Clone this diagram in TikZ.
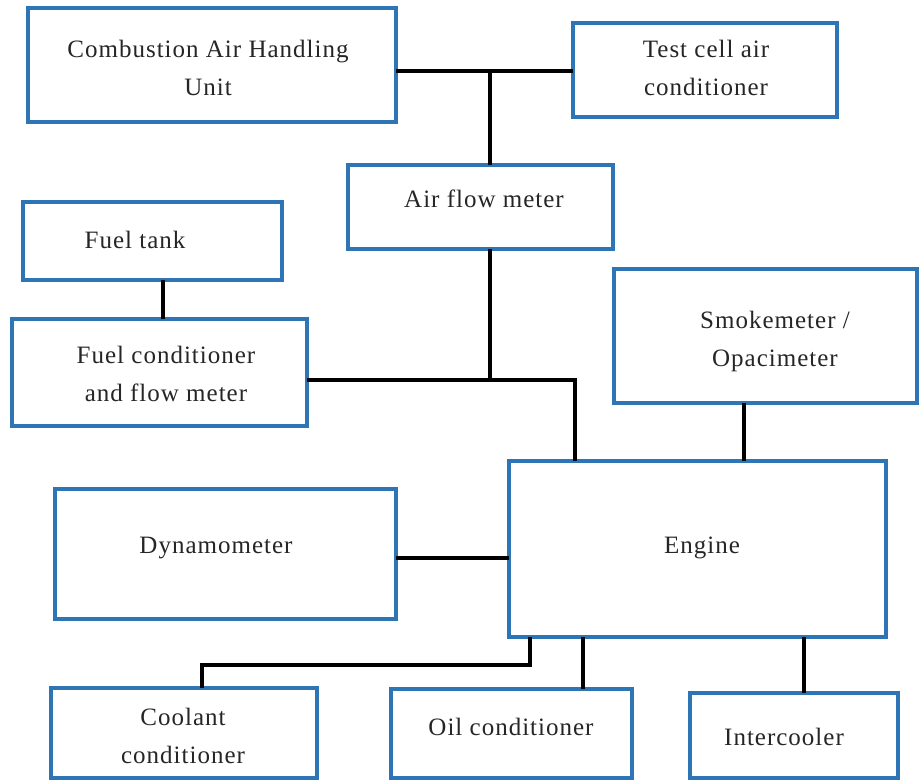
\documentclass[tikz,border=0pt]{standalone}
\usepackage{fontspec}
\setmainfont{Liberation Serif}[LetterSpace=4]
\definecolor{boxblue}{RGB}{46,117,182}
\begin{document}
\begin{tikzpicture}[x=1pt,y=-1pt,
  box/.style={draw=boxblue,line width=3.3pt,fill=white,inner sep=0pt,outer sep=0pt,rectangle},
  txt/.style={align=center,inner sep=0pt,font=\fontsize{25}{38}\selectfont,text=black!85},
  wire/.style={draw=black,line width=3.2pt}]
\useasboundingbox (0,0) rectangle (919,780);
% boxes
\node[box,minimum width=368pt,minimum height=114pt] (cahu) at (212,65) {};
\node[box,minimum width=264pt,minimum height=94pt] (tcac) at (705,70) {};
\node[box,minimum width=265pt,minimum height=84pt] (afm) at (480.5,207) {};
\node[box,minimum width=259pt,minimum height=78pt] (ft) at (152.5,241) {};
\node[box,minimum width=295pt,minimum height=107pt] (fc) at (159.5,372.5) {};
\node[box,minimum width=303pt,minimum height=134pt] (smoke) at (765.5,336) {};
\node[box,minimum width=377pt,minimum height=176pt] (eng) at (697.5,549) {};
\node[box,minimum width=341pt,minimum height=130pt] (dyn) at (225.5,554) {};
\node[box,minimum width=266pt,minimum height=90pt] (cool) at (184,733) {};
\node[box,minimum width=241pt,minimum height=89pt] (oil) at (511.5,733.5) {};
\node[box,minimum width=208pt,minimum height=85pt] (inter) at (794,735.5) {};
% texts
\node[txt] (tcahu) at (208,68) {Combustion Air Handling\\Unit};
\node[txt] (ttcac) at (706,68) {Test cell air\\conditioner};
\node[txt] (tafm) at (484,199) {Air flow meter};
\node[txt] (tft) at (135,240) {Fuel tank};
\node[txt] (tfc) at (166,374) {Fuel conditioner\\and flow meter};
\node[txt] (tsmoke) at (775,341) {Smokemeter /\\Opacimeter};
\node[txt] (teng) at (702,548) {Engine};
\node[txt] (tdyn) at (216,548) {Dynamometer};
\node[txt] (tcool) at (183,736) {Coolant\\conditioner};
\node[txt] (toil) at (511,727) {Oil conditioner};
\node[txt] (tinter) at (784,737) {Intercooler};
% junctions
\coordinate (j1) at (490,71);
\coordinate (j2) at (490,380);
\coordinate (j3) at (575,380);
\coordinate (ftx) at (163,0);
\coordinate (smx) at (744,0);
\coordinate (dyy) at (0,558);
\coordinate (c1) at (530,665);
\coordinate (c2) at (202,665);
\coordinate (oilx) at (583,0);
\coordinate (intx) at (804,0);
% connectors
\draw[wire] (cahu.east |- j1) -- (tcac.west |- j1);
\draw[wire] (j1) -- (j1 |- afm.north);
\draw[wire] (ftx |- ft.south) -- (ftx |- fc.north);
\draw[wire] (j2 |- afm.south) -- (j2);
\draw[wire] (fc.east |- j2) -- (j3) -- (j3 |- eng.north);
\draw[wire] (smx |- smoke.south) -- (smx |- eng.north);
\draw[wire] (dyn.east |- dyy) -- (eng.west |- dyy);
\draw[wire] (c1 |- eng.south) -- (c1) -- (c2) -- (c2 |- cool.north);
\draw[wire] (oilx |- eng.south) -- (oilx |- oil.north);
\draw[wire] (intx |- eng.south) -- (intx |- inter.north);
\end{tikzpicture}
\end{document}
